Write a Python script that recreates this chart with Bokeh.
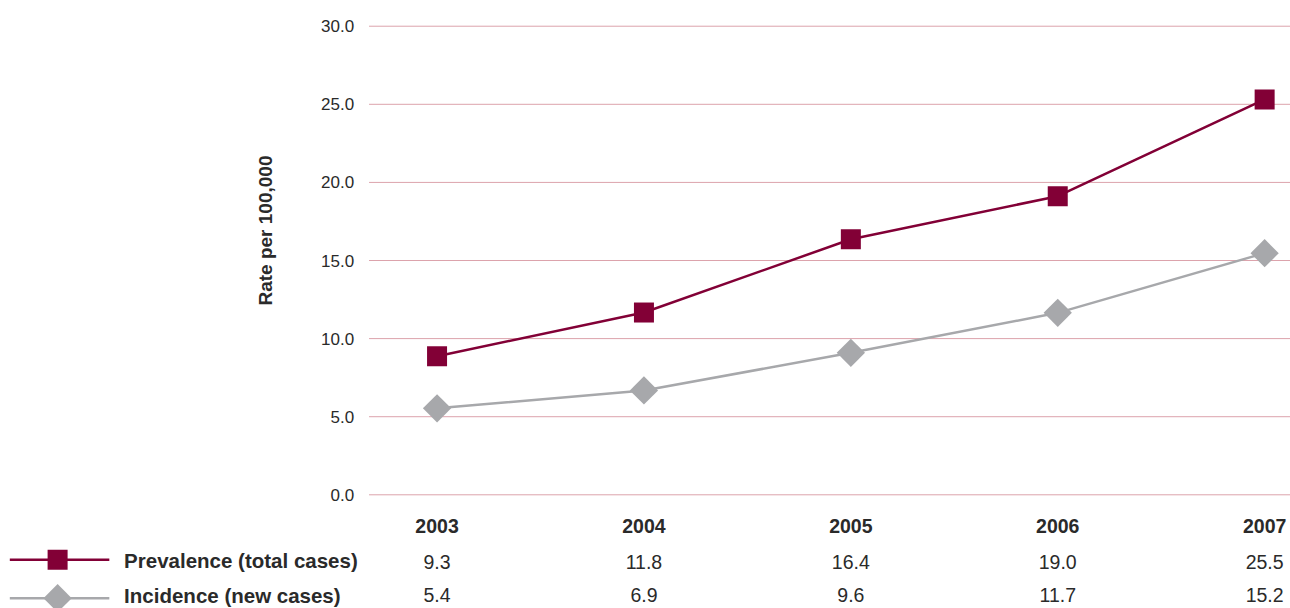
import math
from bokeh.plotting import figure
from bokeh.models import Range1d
from bokeh.core.properties import value
from bokeh.embed import file_html
from bokeh.resources import INLINE

# ---- data ----
years = ["2003", "2004", "2005", "2006", "2007"]
prevalence_plotted = [8.87, 11.67, 16.36, 19.12, 25.31]
incidence_plotted = [5.54, 6.68, 9.09, 11.65, 15.47]
prevalence_table = ["9.3", "11.8", "16.4", "19.0", "25.5"]
incidence_table = ["5.4", "6.9", "9.6", "11.7", "15.2"]
y_ticks = [0, 5, 10, 15, 20, 25, 30]
y_tick_labels = ["0.0", "5.0", "10.0", "15.0", "20.0", "25.0", "30.0"]
series_names = ["Prevalence (total cases)", "Incidence (new cases)"]
axis_title = "Rate per 100,000"

PREV_COLOR = "#820036"
INC_COLOR = "#a7a8ab"
GRID_COLOR = "#dca3ac"
TEXT_COLOR = "#2a2a2a"
FONT = value("Liberation Sans")

xs = list(range(len(years)))

p = figure(width=1290, height=608, output_backend="svg", toolbar_location=None,
           x_range=Range1d(-2.110, 4.125), y_range=Range1d(-7.279, 31.646),
           x_axis_location=None, y_axis_location=None, min_border=0)
p.outline_line_color = None
p.xgrid.visible = False
p.ygrid.visible = False
p.background_fill_color = "white"

# gridlines
grid_x0 = -0.3287
p.segment(x0=[grid_x0] * len(y_ticks), y0=y_ticks, x1=[4.2] * len(y_ticks), y1=y_ticks,
          line_color=GRID_COLOR, line_width=1)

# y tick labels
p.text(x=[-0.401] * len(y_ticks), y=y_ticks, text=y_tick_labels, text_font=FONT,
       text_font_size="17px", text_color=TEXT_COLOR, text_align="right",
       text_baseline="middle")

# axis title
p.text(x=[-0.829], y=[16.92], text=[axis_title], angle=math.pi / 2, text_font=FONT,
       text_font_size="19px", text_font_style="bold", text_color=TEXT_COLOR,
       text_align="center", text_baseline="middle")

# series
p.line(xs, incidence_plotted, line_color=INC_COLOR, line_width=2.5)
p.line(xs, prevalence_plotted, line_color=PREV_COLOR, line_width=2.5)
p.scatter(xs, incidence_plotted, marker="square", size=20, angle=math.pi / 4,
          fill_color=INC_COLOR, line_color=None)
p.scatter(xs, prevalence_plotted, marker="square", size=20,
          fill_color=PREV_COLOR, line_color=None)

# year labels
p.text(x=xs, y=[-2.01] * len(xs), text=years, text_font=FONT, text_font_size="19.5px",
       text_font_style="bold", text_color=TEXT_COLOR, text_align="center",
       text_baseline="middle")

# table values
p.text(x=xs, y=[-4.27] * len(xs), text=prevalence_table, text_font=FONT,
       text_font_size="19.5px", text_color=TEXT_COLOR, text_align="center",
       text_baseline="middle")
p.text(x=xs, y=[-6.42] * len(xs), text=incidence_table, text_font=FONT,
       text_font_size="19.5px", text_color=TEXT_COLOR, text_align="center",
       text_baseline="middle")

# legend keys
leg_y = [-4.16, -6.62]
p.segment(x0=[-2.065, -2.065], y0=leg_y, x1=[-1.584, -1.584], y1=leg_y,
          line_color=[PREV_COLOR, INC_COLOR], line_width=2.5)
p.scatter([-1.834], [leg_y[0]], marker="square", size=20, fill_color=PREV_COLOR, line_color=None)
p.scatter([-1.834], [leg_y[1]], marker="square", size=20, angle=math.pi / 4,
          fill_color=INC_COLOR, line_color=None)
p.text(x=[-1.5125, -1.5125], y=[-4.2, -6.42], text=series_names, text_font=FONT,
       text_font_size="20.5px", text_font_style="bold", text_color=TEXT_COLOR,
       text_align="left", text_baseline="middle")

open("out.html", "w").write(file_html(p, INLINE))
